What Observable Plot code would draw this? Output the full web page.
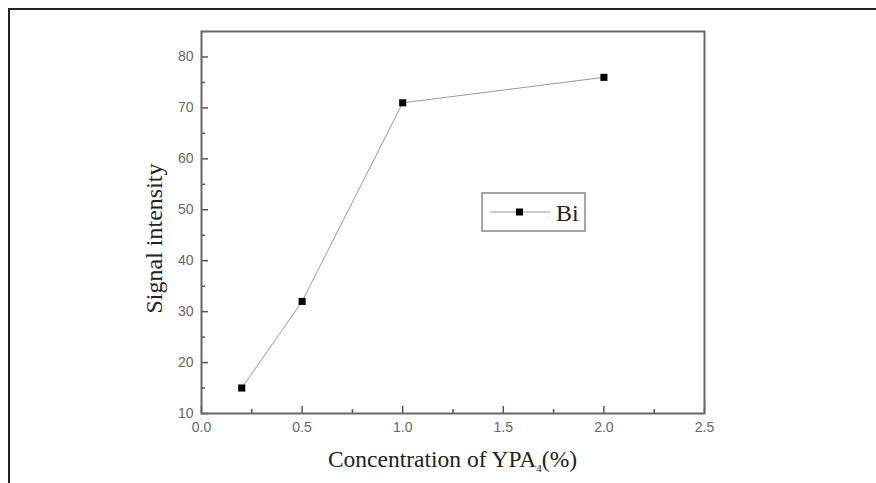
<!DOCTYPE html>
<html>
<head>
<meta charset="utf-8">
<script src="https://cdn.jsdelivr.net/npm/d3@7"></script>
<script src="https://cdn.jsdelivr.net/npm/@observablehq/plot@0.6"></script>
<style>
  html, body { margin: 0; padding: 0; background: #fff; }
  #wrap { position: relative; width: 876px; height: 483px; overflow: hidden; }
  #border { position: absolute; left: 8px; top: 8px; right: -4px; bottom: -4px;
            border-top: 2px solid #222; border-left: 2px solid #222; pointer-events: none; }
  svg { display: block; }
</style>
</head>
<body>
<div id="wrap"><div id="border"></div></div>
<script>
// Data
const concentration = [0.2, 0.5, 1.0, 2.0];
const signal = [15, 32, 71, 76];
const seriesName = "Bi";
const xMajorTicks = [0, 0.5, 1.0, 1.5, 2.0, 2.5];
const xMinorTicks = [0.25, 0.75, 1.25, 1.75, 2.25];
const yMajorTicks = [10, 20, 30, 40, 50, 60, 70, 80];
const yMinorTicks = [15, 25, 35, 45, 55, 65, 75];
const yTitle = "Signal intensity";
const xTitleParts = ["Concentration of YPA", "4", "(%)"];

const data = concentration.map((c, i) => ({x: c, y: signal[i]}));

const tickFont = "'Liberation Sans', Arial, sans-serif";
const serif = "'Liberation Serif', 'Times New Roman', serif";

const W = 876, H = 483, ML = 201, MR = 172, MT = 31, MB = 70;
const FW = W - ML - MR, FH = H - MT - MB;
const tickColor = "#555";

const plot = Plot.plot({
  width: W,
  height: H,
  marginLeft: ML,
  marginRight: MR,
  marginTop: MT,
  marginBottom: MB,
  style: {background: "transparent", fontFamily: tickFont},
  x: {domain: [0, 2.5]},
  y: {domain: [10, 85]},
  marks: [
    // inward tick marks
    Plot.tickX(xMajorTicks, {x: d => d, insetTop: FH - 7, stroke: tickColor, strokeWidth: 1.5}),
    Plot.tickX(xMinorTicks, {x: d => d, insetTop: FH - 4, stroke: tickColor, strokeWidth: 1.5}),
    Plot.tickY(yMajorTicks, {y: d => d, insetRight: FW - 7, stroke: tickColor, strokeWidth: 1.5}),
    Plot.tickY(yMinorTicks, {y: d => d, insetRight: FW - 4, stroke: tickColor, strokeWidth: 1.5}),
    // tick labels
    Plot.axisX(xMajorTicks, {tickSize: 0, tickPadding: 9, tickFormat: d3.format(".1f"),
      fill: "#666", fontSize: 14, label: null}),
    Plot.axisY(yMajorTicks, {tickSize: 0, tickPadding: 8, tickFormat: d3.format("d"),
      fill: "#666", fontSize: 14, label: null}),
    Plot.frame({stroke: "#666", strokeWidth: 2}),
    Plot.line(data, {x: "x", y: "y", stroke: "#999", strokeWidth: 1}),
    Plot.dot(data, {x: "x", y: "y", symbol: "square", r: 4, fill: "#000", stroke: "none"}),
    Plot.text([yTitle], {frameAnchor: "left", dx: -47, dy: 16, rotate: -90, fontSize: 24,
      textAnchor: "middle", fontFamily: serif, fill: "#222"})
  ]
});

document.getElementById("wrap").prepend(plot);

// X axis title with subscript
const svg = d3.select(plot);
const xs = plot.scale("x");
const xc = (xs.range[0] + xs.range[1]) / 2;
const t = svg.append("text")
  .attr("x", xc)
  .attr("y", 467)
  .attr("text-anchor", "middle")
  .attr("font-family", serif)
  .attr("font-size", 23.5)
  .attr("fill", "#222");
t.append("tspan").text(xTitleParts[0]);
t.append("tspan").attr("font-size", 11).attr("dy", 5).text(xTitleParts[1]);
t.append("tspan").attr("dy", -5).text(xTitleParts[2]);

// Legend
const lg = svg.append("g").attr("transform", "translate(482,193)");
lg.append("rect").attr("width", 103).attr("height", 38)
  .attr("fill", "#fff").attr("stroke", "#888").attr("stroke-width", 1.5);
lg.append("line").attr("x1", 8).attr("x2", 68).attr("y1", 19).attr("y2", 19)
  .attr("stroke", "#999").attr("stroke-width", 1);
lg.append("rect").attr("x", 34).attr("y", 15.5).attr("width", 7).attr("height", 7).attr("fill", "#000");
lg.append("text").attr("x", 74).attr("y", 27.5).attr("text-anchor", "start")
  .attr("font-family", serif).attr("font-size", 24).attr("fill", "#222").text(seriesName);
</script>
</body>
</html>
